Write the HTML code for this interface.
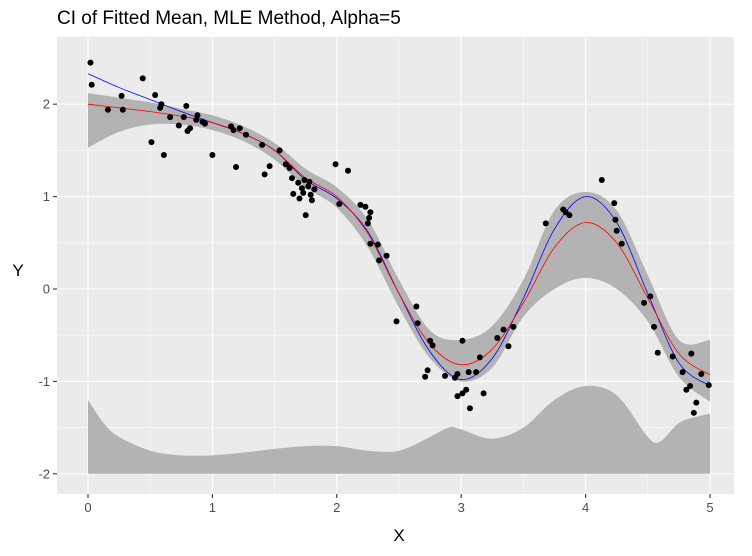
<!DOCTYPE html>
<html><head><meta charset="utf-8"><style>
body{margin:0;background:#fff;}
svg{display:block;font-family:"Liberation Sans",Arial,sans-serif;}
</style></head><body>
<svg id="chart" width="752" height="556" viewBox="0 0 752 556" xmlns="http://www.w3.org/2000/svg">
<text x="57" y="24" font-size="19" fill="#000">CI of Fitted Mean, MLE Method, Alpha=5</text>
<rect x="57" y="37" width="677" height="457" fill="#EBEBEB"/>
<g id="grid"></g>
<g id="marks"></g>
<g id="axes"></g>
<text x="399" y="541" font-size="17" text-anchor="middle" fill="#000">X</text>
<text x="18" y="276" font-size="17" text-anchor="middle" fill="#000">Y</text>
</svg>
<script>
const xTicks=[0,1,2,3,4,5];
const yTicks=[-2,-1,0,1,2];
const curveX=[0,0.25,0.5,0.75,1,1.25,1.5,1.75,2,2.25,2.5,2.75,3,3.25,3.5,3.75,4,4.25,4.5,4.75,5];
const redFit=[2.0,1.96,1.92,1.87,1.8,1.68,1.5,1.2,1.0,0.6,-0.05,-0.6,-0.82,-0.65,-0.15,0.45,0.72,0.5,-0.1,-0.7,-0.93];
const blueTrue=[2.33,2.18,2.05,1.92,1.8,1.68,1.5,1.18,0.98,0.62,-0.05,-0.68,-0.98,-0.75,-0.1,0.65,1.0,0.72,-0.05,-0.8,-1.05];
const ciUpper=[2.12,2.07,2.02,1.95,1.88,1.76,1.58,1.3,1.1,0.75,0.1,-0.45,-0.55,-0.4,0.1,0.85,1.05,0.85,0.15,-0.55,-0.55];
const ciLower=[1.53,1.7,1.78,1.78,1.72,1.6,1.4,1.1,0.88,0.45,-0.2,-0.75,-1.0,-0.85,-0.3,0.0,0.12,0.0,-0.35,-0.95,-1.22];
const lowX=[0,0.125,0.25,0.5,0.75,1,1.25,1.5,1.75,2,2.25,2.5,2.75,2.9,3,3.25,3.5,3.75,4,4.25,4.5,4.6,4.75,4.9,5];
const lowTop=[-1.2,-1.45,-1.6,-1.75,-1.8,-1.8,-1.77,-1.73,-1.7,-1.7,-1.75,-1.75,-1.6,-1.5,-1.52,-1.62,-1.5,-1.2,-1.05,-1.15,-1.6,-1.65,-1.45,-1.38,-1.35];
const ptX=[0.02,0.03,0.16,0.27,0.28,0.44,0.51,0.54,0.58,0.59,0.61,0.66,0.73,0.77,0.79,0.8,0.82,0.87,0.88,0.92,0.94,1.0,1.15,1.17,1.19,1.22,1.27,1.4,1.42,1.46,1.54,1.59,1.62,1.64,1.65,1.69,1.7,1.72,1.73,1.74,1.75,1.77,1.78,1.79,1.8,1.82,1.99,2.02,2.09,2.19,2.23,2.25,2.26,2.27,2.27,2.33,2.34,2.4,2.48,2.64,2.65,2.71,2.73,2.75,2.77,2.87,2.95,2.97,2.97,3.01,3.01,3.04,3.06,3.07,3.12,3.15,3.18,3.29,3.34,3.38,3.42,3.68,3.82,3.84,3.87,4.13,4.23,4.24,4.25,4.29,4.47,4.52,4.55,4.58,4.7,4.78,4.81,4.84,4.85,4.87,4.89,4.93,4.99];
const ptY=[2.45,2.21,1.94,2.09,1.94,2.28,1.59,2.1,1.96,2.0,1.45,1.86,1.77,1.86,1.98,1.71,1.74,1.83,1.88,1.81,1.79,1.45,1.76,1.72,1.32,1.74,1.67,1.56,1.24,1.33,1.5,1.35,1.31,1.2,1.03,1.15,0.98,1.09,1.04,1.18,0.8,1.11,1.16,1.02,0.96,1.08,1.35,0.92,1.28,0.91,0.89,0.71,0.77,0.49,0.83,0.48,0.31,0.36,-0.35,-0.19,-0.37,-0.95,-0.88,-0.56,-0.61,-0.94,-0.96,-0.92,-1.16,-1.13,-0.56,-1.09,-0.9,-1.29,-0.9,-0.74,-1.13,-0.53,-0.44,-0.62,-0.41,0.71,0.86,0.83,0.8,1.18,0.93,0.75,0.63,0.49,-0.15,-0.08,-0.41,-0.69,-0.73,-0.9,-1.09,-1.05,-0.7,-1.34,-1.23,-0.92,-1.04];

const NS="http://www.w3.org/2000/svg";
const sx=v=>88+v*124.4, sy=v=>289-v*92.4;
const PL=57,PR=734,PT=37,PB=494;
function mk(t,a,p){const e=document.createElementNS(NS,t);for(const k in a)e.setAttribute(k,a[k]);p.appendChild(e);return e;}
function smooth(pts,start){let d=start?`M${pts[0][0]},${pts[0][1]}`:`L${pts[0][0]},${pts[0][1]}`;
 for(let i=0;i<pts.length-1;i++){const p0=pts[Math.max(0,i-1)],p1=pts[i],p2=pts[i+1],p3=pts[Math.min(pts.length-1,i+2)];
  d+=`C${p1[0]+(p2[0]-p0[0])/6},${p1[1]+(p2[1]-p0[1])/6} ${p2[0]-(p3[0]-p1[0])/6},${p2[1]-(p3[1]-p1[1])/6} ${p2[0]},${p2[1]}`;}return d;}
const grid=document.getElementById('grid'),marks=document.getElementById('marks'),axes=document.getElementById('axes');
for(let i=0;i<xTicks.length-1;i++){const m=(xTicks[i]+xTicks[i+1])/2;
 const l=mk('line',{x1:sx(m),x2:sx(m),y1:PT,y2:PB,stroke:'#fff','stroke-width':0.55},grid);
 }
for(let i=0;i<yTicks.length-1;i++){const m=(yTicks[i]+yTicks[i+1])/2;
 const l=mk('line',{x1:PL,x2:PR,y1:sy(m),y2:sy(m),stroke:'#fff','stroke-width':0.55},grid);
 }
xTicks.forEach(v=>{const l=mk('line',{x1:sx(v),x2:sx(v),y1:PT,y2:PB,stroke:'#fff','stroke-width':1.1},grid);
 
 const t=mk('line',{x1:sx(v),x2:sx(v),y1:PB,y2:PB+4,stroke:'#333','stroke-width':1.1},axes);
 
 const tx=mk('text',{x:sx(v),y:PB+18,'font-size':13,'text-anchor':'middle',fill:'#4D4D4D'},axes);tx.textContent=v;
 });
yTicks.forEach(v=>{const l=mk('line',{x1:PL,x2:PR,y1:sy(v),y2:sy(v),stroke:'#fff','stroke-width':1.1},grid);
 
 const t=mk('line',{x1:PL-4,x2:PL,y1:sy(v),y2:sy(v),stroke:'#333','stroke-width':1.1},axes);
 
 const tx=mk('text',{x:PL-7,y:sy(v)+4.5,'font-size':13,'text-anchor':'end',fill:'#4D4D4D'},axes);tx.textContent=v;
 });
let lp=lowX.map((x,i)=>[sx(x),sy(lowTop[i])]);
let d=smooth(lp,true)+`L${sx(5)},${sy(-2)}L${sx(0)},${sy(-2)}Z`;
const low=mk('path',{d:d,fill:'#B3B3B3'},marks);

const up=curveX.map((x,i)=>[sx(x),sy(ciUpper[i])]);
const lo=curveX.map((x,i)=>[sx(x),sy(ciLower[i])]).reverse();
const rib=mk('path',{d:smooth(up,true)+smooth(lo,false)+'Z',fill:'#B3B3B3'},marks);

const bl=mk('path',{d:smooth(curveX.map((x,i)=>[sx(x),sy(blueTrue[i])]),true),fill:'none',stroke:'#0000FF','stroke-width':0.8},marks);

const rd=mk('path',{d:smooth(curveX.map((x,i)=>[sx(x),sy(redFit[i])]),true),fill:'none',stroke:'#FF0000','stroke-width':0.8},marks);

ptX.forEach((x,i)=>{const c=mk('circle',{cx:sx(x),cy:sy(ptY[i]),r:3,fill:'#000'},marks);
 });
</script>
</body></html>
